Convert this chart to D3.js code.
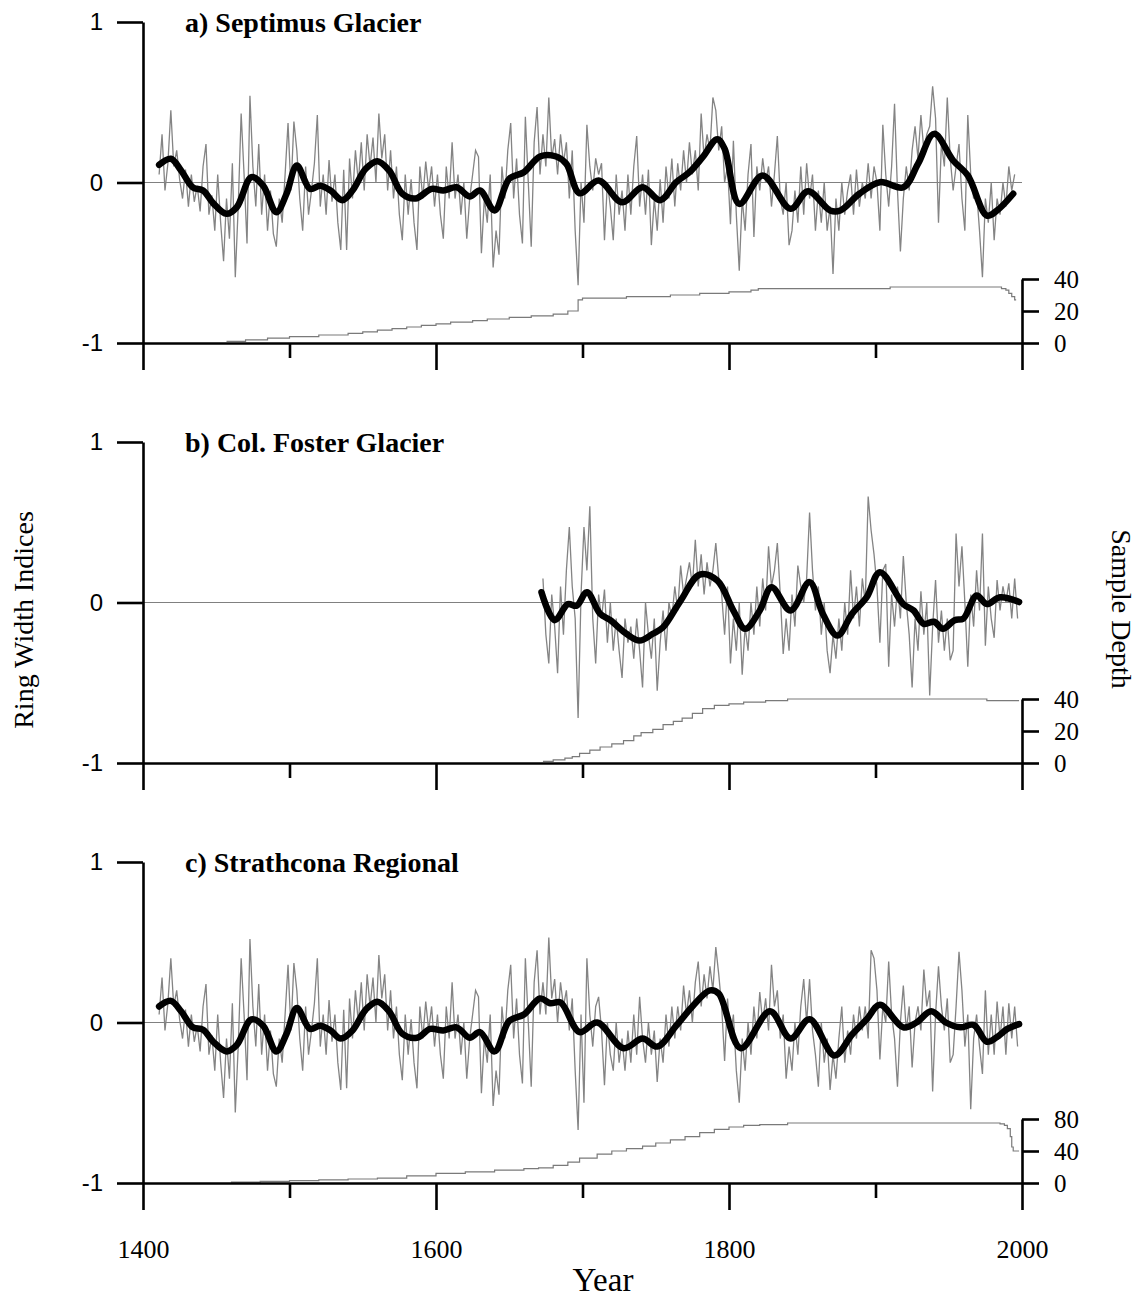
<!DOCTYPE html>
<html>
<head>
<meta charset="utf-8">
<script src="https://cdn.jsdelivr.net/npm/d3@7"></script>
<style>
body{margin:0;background:#fff;}
</style>
</head>
<body>
<div id="chart"></div>
<script>
// ring width indices, one value every 2 years
yearStep = 2;

septimusStart = 1411;
septimusIdx = [
 0.05, 0.30,-0.05, 0.12, 0.45, 0.10, 0.20, 0.02,-0.10, 0.08,
-0.15, 0.05,-0.12,-0.02,-0.18, 0.10, 0.24,-0.20,-0.08,-0.30,
 0.05,-0.25,-0.49,-0.10,-0.35, 0.12,-0.59,-0.15, 0.43, 0.05,
-0.38, 0.54, 0.10,-0.15, 0.24,-0.20, 0.05,-0.30,-0.05,-0.32,
-0.40,-0.10,-0.25, 0.05, 0.37,-0.05, 0.38, 0.20,-0.10,-0.30,
 0.10,-0.20,-0.05, 0.12, 0.42,-0.15, 0.05,-0.20, 0.14,-0.12,
 0.05,-0.25,-0.42, 0.08,-0.42, 0.15,-0.10, 0.20, 0.00, 0.25,
-0.05, 0.30, 0.10, 0.28, 0.00, 0.43, 0.15, 0.30,-0.05, 0.20,
-0.10, 0.10,-0.20,-0.36, 0.05,-0.20, 0.02,-0.25,-0.42, 0.10,
-0.10, 0.13,-0.05, 0.10,-0.15, 0.05,-0.20,-0.35, 0.10,-0.10,
 0.25,-0.10, 0.05,-0.20, 0.00,-0.35,-0.10, 0.05, 0.20, 0.16,
-0.44,-0.10,-0.25, 0.05,-0.53,-0.30,-0.45, 0.10,-0.10, 0.20,
 0.37,-0.10, 0.15,-0.20,-0.38, 0.41, 0.00,-0.40, 0.25, 0.47,
 0.05, 0.30, 0.10, 0.53, 0.15, 0.27, 0.05, 0.30, 0.12, 0.25,
-0.10, 0.20,-0.30,-0.64, 0.00,-0.25, 0.36, 0.10,-0.05, 0.15,
 0.05, 0.12,-0.36, 0.00,-0.15,-0.36, 0.05,-0.20,-0.05,-0.30,
 0.05,-0.20, 0.10, 0.29,-0.15, 0.05,-0.20, 0.08,-0.39,-0.10,
-0.30, 0.02,-0.25, 0.10,-0.10, 0.15,-0.15, 0.12,-0.05, 0.20,
 0.00, 0.25, 0.05, 0.20,-0.05, 0.43, 0.15, 0.30, 0.20, 0.53,
 0.45, 0.20, 0.35, 0.00, 0.10,-0.26, 0.26,-0.20,-0.55,-0.10,
-0.30, 0.05, 0.24,-0.34, 0.10,-0.05, 0.15, 0.00, 0.10,-0.15,
 0.05, 0.29,-0.10,-0.20, 0.00,-0.39,-0.30,-0.05,-0.25, 0.10,
-0.20, 0.12,-0.10, 0.05,-0.30,-0.05,-0.25, 0.00,-0.30,-0.15,
-0.57,-0.10,-0.30, 0.00,-0.20,-0.05, 0.05,-0.20, 0.08,-0.15,
 0.00,-0.10, 0.12,-0.10, 0.10, 0.00,-0.30, 0.36, 0.05,-0.15,
 0.10, 0.49,-0.05,-0.43,-0.10, 0.10,-0.05, 0.20, 0.35, 0.15,
 0.42, 0.20, 0.30, 0.35, 0.60, 0.40,-0.25, 0.25, 0.10, 0.53,
 0.15,-0.05, 0.10, 0.24,-0.10,-0.30, 0.42, 0.05,-0.10,-0.05,
-0.30,-0.59,-0.10,-0.25, 0.00,-0.36,-0.10,-0.20, 0.00,-0.15,
 0.10,-0.05, 0.05
];

fosterStart = 1673;
fosterIdx = [
 0.15,-0.20,-0.38, 0.05,-0.15,-0.44, 0.10,-0.20, 0.20, 0.47,
 0.10,-0.10,-0.72, 0.05, 0.47, 0.20, 0.60,-0.10,-0.38, 0.05,
-0.10, 0.08,-0.25, 0.00,-0.30,-0.10,-0.30,-0.47,-0.10,-0.25,
-0.15,-0.35,-0.10,-0.30,-0.53, 0.00,-0.20,-0.35,-0.10,-0.55,
-0.25,-0.05,-0.30, 0.00,-0.10, 0.10,-0.05, 0.23, 0.05, 0.15,
 0.25, 0.10, 0.39, 0.10, 0.30, 0.05, 0.25, 0.10, 0.20, 0.37,
 0.15, 0.05,-0.20, 0.10,-0.38,-0.10,-0.30, 0.00,-0.45,-0.15,
-0.30, 0.00,-0.20, 0.10,-0.15, 0.15,-0.05, 0.35, 0.10, 0.20,
 0.37, 0.05,-0.32,-0.10,-0.30, 0.05,-0.15, 0.23, 0.10, 0.00,
 0.15, 0.56, 0.20,-0.05, 0.10,-0.20, 0.00,-0.30,-0.44,-0.20,
-0.35,-0.10,-0.30, 0.00,-0.20, 0.20,-0.10, 0.10,-0.15, 0.15,
 0.00, 0.66, 0.45, 0.30, 0.10,-0.25, 0.20, 0.24,-0.40, 0.05,
-0.15, 0.10,-0.10, 0.29, 0.00,-0.20,-0.53,-0.10,-0.30, 0.07,
-0.20, 0.00,-0.58,-0.15, 0.14,-0.25,-0.05,-0.30,-0.10,-0.36,
-0.30, 0.43, 0.10, 0.35, 0.00,-0.40, 0.05,-0.15, 0.20,-0.05,
 0.43,-0.27, 0.10,-0.10,-0.22, 0.14,-0.05, 0.10, 0.00, 0.12,
-0.10, 0.15,-0.10
];

strathStart = 1411;
strathIdx = [
 0.05, 0.28,-0.05, 0.12, 0.40, 0.10, 0.20, 0.02,-0.10, 0.08,
-0.15, 0.05,-0.12,-0.02,-0.18, 0.10, 0.24,-0.20,-0.08,-0.30,
 0.05,-0.25,-0.47,-0.10,-0.35, 0.12,-0.56,-0.15, 0.40, 0.05,
-0.36, 0.52, 0.10,-0.15, 0.24,-0.20, 0.05,-0.30,-0.05,-0.32,
-0.40,-0.10,-0.25, 0.05, 0.36,-0.05, 0.37, 0.20,-0.10,-0.30,
 0.10,-0.20,-0.05, 0.12, 0.40,-0.15, 0.05,-0.20, 0.14,-0.12,
 0.05,-0.25,-0.42, 0.08,-0.41, 0.15,-0.10, 0.20, 0.00, 0.25,
-0.05, 0.30, 0.10, 0.28, 0.00, 0.42, 0.15, 0.30,-0.05, 0.20,
-0.10, 0.10,-0.20,-0.36, 0.05,-0.20, 0.02,-0.25,-0.41, 0.10,
-0.10, 0.13,-0.05, 0.10,-0.15, 0.05,-0.20,-0.35, 0.10,-0.10,
 0.25,-0.10, 0.05,-0.20, 0.00,-0.35,-0.10, 0.05, 0.20, 0.16,
-0.44,-0.10,-0.25, 0.05,-0.52,-0.30,-0.45, 0.10,-0.10, 0.20,
 0.36,-0.10, 0.15,-0.20,-0.38, 0.40, 0.00,-0.40, 0.25, 0.45,
 0.05,
 0.25, 0.05, 0.53, 0.15, 0.27, 0.00, 0.25, 0.10, 0.20,-0.05,
 0.15,-0.30,-0.67, 0.05,-0.50, 0.40, 0.05,-0.15, 0.10, 0.16,
-0.05,-0.39, 0.00,-0.20,-0.30, 0.00,-0.25,-0.10,-0.30,-0.05,
-0.25, 0.05,-0.20, 0.16,-0.10,-0.25, 0.00,-0.20,-0.05,-0.37,
-0.10,-0.25, 0.05,-0.15, 0.10,-0.10, 0.10,-0.05, 0.23, 0.05,
 0.20, 0.00, 0.25, 0.38, 0.10, 0.30, 0.15, 0.35, 0.20, 0.47,
 0.30, 0.10,-0.24, 0.15,-0.10, 0.05,-0.30,-0.50,-0.10,-0.30,
 0.00,-0.20, 0.10,-0.10, 0.19, 0.00, 0.15,-0.05, 0.36, 0.10,
 0.20,-0.10, 0.05,-0.35,-0.15,-0.30, 0.00,-0.20, 0.10, 0.27,
 0.00, 0.27,-0.05,-0.20,-0.40, 0.00,-0.25,-0.10,-0.42,-0.20,
-0.35,-0.10, 0.10,-0.25,-0.05,-0.20, 0.05,-0.10, 0.10,-0.05,
 0.10,-0.10, 0.45, 0.40, 0.20,-0.23, 0.10, 0.00, 0.38, 0.05,
-0.10,-0.40, 0.00, 0.23,-0.05, 0.10,-0.28, 0.00, 0.10,-0.05,
 0.33, 0.10, 0.20,-0.43, 0.05, 0.35, 0.10,-0.05, 0.15,-0.25,
-0.20, 0.10, 0.44, 0.20,-0.15, 0.05,-0.54,-0.10, 0.05,-0.15,
-0.32, 0.20,-0.20, 0.05,-0.20, 0.13,-0.10, 0.10,-0.20, 0.12,
-0.10, 0.10,-0.15
];

// smoothed curves [year, index]
septimusSpline = [
[1411,0.11],[1419,0.148],[1426,0.075],[1434,-0.03],[1441,-0.05],[1448,-0.13],[1457,-0.195],[1464,-0.154],
[1474,0.033],[1482,-0.02],[1491,-0.185],[1498,-0.07],[1505,0.106],[1514,-0.04],[1521,-0.02],[1528,-0.05],
[1536,-0.11],[1543,-0.05],[1552,0.085],[1560,0.133],[1568,0.075],[1577,-0.07],[1586,-0.1],[1597,-0.04],
[1605,-0.05],[1614,-0.03],[1623,-0.087],[1630,-0.05],[1640,-0.174],[1650,0.023],[1660,0.064],[1671,0.162],
[1682,0.162],[1689,0.116],[1698,-0.067],[1711,0.012],[1727,-0.123],[1741,-0.03],[1753,-0.11],[1764,0.002],
[1773,0.064],[1782,0.158],[1792,0.27],[1797,0.21],[1807,-0.133],[1823,0.044],[1842,-0.164],[1854,-0.054],
[1869,-0.174],[1876,-0.174],[1889,-0.07],[1903,0.002],[1919,-0.03],[1929,0.116],[1940,0.303],[1953,0.137],
[1963,0.044],[1976,-0.206],[1983,-0.174],[1994,-0.07]
];

fosterSpline = [
[1672,0.064],[1681,-0.11],[1690,-0.01],[1696,-0.02],[1703,0.064],[1712,-0.07],[1719,-0.11],[1730,-0.195],
[1739,-0.237],[1748,-0.195],[1755,-0.154],[1767,0.012],[1780,0.174],[1792,0.137],[1803,-0.05],[1811,-0.164],
[1821,-0.05],[1829,0.095],[1842,-0.05],[1855,0.127],[1864,-0.07],[1874,-0.206],[1884,-0.07],[1894,0.033],
[1903,0.189],[1919,-0.01],[1926,-0.05],[1933,-0.133],[1940,-0.12],[1946,-0.164],[1954,-0.11],[1960,-0.1],
[1969,0.044],[1976,-0.01],[1985,0.033],[1998,0.003]
];

strathSpline = [
[1411,0.1],[1419,0.135],[1426,0.07],[1434,-0.03],[1441,-0.045],[1448,-0.12],[1457,-0.18],[1464,-0.14],
[1474,0.02],[1482,-0.02],[1491,-0.18],[1498,-0.07],[1505,0.09],[1514,-0.04],[1521,-0.02],[1528,-0.05],
[1535,-0.1],[1543,-0.05],[1552,0.08],[1560,0.13],[1568,0.07],[1577,-0.07],[1587,-0.095],[1596,-0.04],
[1605,-0.05],[1614,-0.03],[1623,-0.095],[1630,-0.06],[1640,-0.18],[1650,0.01],[1660,0.05],[1671,0.15],
[1678,0.12],[1685,0.125],[1698,-0.06],[1710,0.0],[1728,-0.16],[1741,-0.1],[1751,-0.15],[1764,-0.02],
[1775,0.1],[1787,0.2],[1793,0.18],[1808,-0.16],[1828,0.07],[1842,-0.1],[1855,0.02],[1872,-0.205],
[1884,-0.075],[1894,0.02],[1903,0.11],[1919,-0.03],[1928,0.0],[1938,0.07],[1948,0.0],[1958,-0.03],
[1967,-0.015],[1976,-0.12],[1983,-0.09],[1990,-0.04],[1998,-0.01]
];

// sample depth [year, number of series]
septimusDepth = [
[1457,1],[1470,2],[1485,3],[1500,4],[1520,5],[1540,6],[1550,7],[1560,8],[1570,9],[1580,10],[1590,11],
[1600,12],[1610,13],[1625,14],[1635,15],[1650,16],[1665,17],[1680,18],[1690,20],[1697,27],[1700,28],
[1730,29],[1760,30],[1780,31],[1800,32],[1815,33],[1820,34],[1910,35],[1986,34],[1989,33],[1991,31],
[1993,29],[1995,27]
];
fosterDepth = [
[1673,1],[1680,2],[1688,3],[1693,4],[1698,6],[1705,8],[1712,10],[1720,12],[1728,14],[1735,17],[1740,19],
[1748,21],[1755,24],[1762,26],[1768,28],[1775,31],[1782,34],[1790,36],[1800,37],[1810,38],[1825,39],
[1840,40],[1976,39],[1997,39]
];
strathDepth = [
[1460,1],[1480,2],[1500,3],[1520,4],[1540,5],[1560,6],[1580,9],[1600,12],[1620,14],[1640,16],[1660,18],
[1670,19],[1680,22],[1690,26],[1698,31],[1710,36],[1720,40],[1730,43],[1741,46],[1750,50],[1760,54],
[1770,58],[1780,63],[1790,67],[1800,70],[1810,72],[1821,73],[1840,75],[1985,74],[1988,72],[1990,68],
[1992,58],[1993,45],[1994,40],[1997,40]
];

panelTitles = ["a) Septimus Glacier", "b) Col. Foster Glacier", "c) Strathcona Regional"];
depthTicks = [[0, 20, 40], [0, 20, 40], [0, 40, 80]];
depthMax = [40, 40, 80];
indexTicks = [-1, 0, 1];
majorYears = [1400, 1600, 1800, 2000];
minorYears = [1500, 1700, 1900];

let serif = "'Liberation Serif','Times New Roman',serif";
let sans = "'Liberation Sans',Arial,sans-serif";

let svg = d3.select("#chart").append("svg")
    .attr("width", 1146)
    .attr("height", 1297);

let xScale = d3.scaleLinear().domain([1400, 2000]).range([143, 1022]);

let series = [
    {idx: septimusIdx, start: septimusStart, spline: septimusSpline, depth: septimusDepth},
    {idx: fosterIdx, start: fosterStart, spline: fosterSpline, depth: fosterDepth},
    {idx: strathIdx, start: strathStart, spline: strathSpline, depth: strathDepth}
];

function styleAxis(g, fam, size){
    g.attr("font-family", fam).attr("font-size", size);
    g.selectAll("path.domain").attr("stroke", "#000").attr("stroke-width", 2.6);
    g.selectAll(".tick line").attr("stroke", "#000").attr("stroke-width", 2.6);
    g.selectAll(".tick text").attr("fill", "#000");
}

function drawPanel(p, k){
    let top = 22 + 420 * k, bottom = top + 321;
    let y = d3.scaleLinear().domain([-1, 1]).range([bottom, top]);
    let yd = d3.scaleLinear().domain([0, depthMax[k]]).range([bottom, bottom - 64]);
    let g = svg.append("g");

    // zero line
    g.append("line")
        .attr("x1", xScale(1400)).attr("x2", xScale(2000))
        .attr("y1", y(0)).attr("y2", y(0))
        .attr("stroke", "#808080").attr("stroke-width", 1);

    // sample depth
    let last = p.depth[p.depth.length - 1];
    g.append("path")
        .datum(p.depth.concat([[last[0] + 1, last[1]]]))
        .attr("fill", "none")
        .attr("stroke", "#7a7a7a")
        .attr("stroke-width", 1.2)
        .attr("d", d3.line().curve(d3.curveStepAfter)
            .x(function(d){ return xScale(d[0]); })
            .y(function(d){ return yd(d[1]); }));

    // annual indices
    g.append("path")
        .datum(p.idx)
        .attr("fill", "none")
        .attr("stroke", "#848484")
        .attr("stroke-width", 1.3)
        .attr("d", d3.line()
            .x(function(d, i){ return xScale(p.start + i * yearStep); })
            .y(function(d){ return y(d); }));

    // smoothed
    g.append("path")
        .datum(p.spline)
        .attr("fill", "none")
        .attr("stroke", "#000")
        .attr("stroke-width", 6.5)
        .attr("stroke-linecap", "round")
        .attr("stroke-linejoin", "round")
        .attr("d", d3.line().curve(d3.curveCatmullRom.alpha(0.5))
            .x(function(d){ return xScale(d[0]); })
            .y(function(d){ return y(d[1]); }));

    // left axis
    let yAxis = g.append("g")
        .attr("transform", "translate(" + xScale(1400) + ",0)")
        .call(d3.axisLeft(y).tickValues(indexTicks).tickSize(26).tickSizeOuter(0).tickPadding(14)
            .tickFormat(function(d){ return String(d); }));
    styleAxis(yAxis, sans, 24);

    // bottom axis
    let xMajor = g.append("g")
        .attr("transform", "translate(0," + bottom + ")")
        .call(d3.axisBottom(xScale).tickValues(majorYears).tickSize(27).tickSizeOuter(0).tickPadding(30)
            .tickFormat(function(d){ return k == 2 ? String(d) : ""; }));
    styleAxis(xMajor, serif, 26);

    let xMinor = g.append("g")
        .attr("transform", "translate(0," + bottom + ")")
        .call(d3.axisBottom(xScale).tickValues(minorYears).tickSize(15).tickSizeOuter(0).tickFormat(""));
    xMinor.select("path.domain").remove();
    styleAxis(xMinor, serif, 26);

    // right (sample depth) axis
    let dAxis = g.append("g")
        .attr("transform", "translate(" + xScale(2000) + ",0)")
        .call(d3.axisRight(yd).tickValues(depthTicks[k]).tickSize(17).tickSizeOuter(0).tickPadding(15)
            .tickFormat(function(d){ return String(d); }));
    styleAxis(dAxis, serif, 25);

    // title
    g.append("text")
        .attr("x", 185)
        .attr("y", top + 10)
        .attr("font-family", serif)
        .attr("font-weight", "bold")
        .attr("font-size", 28)
        .text(panelTitles[k]);
}

series.forEach(function(p, k){ drawPanel(p, k); });

svg.append("text")
    .attr("transform", "translate(33,620) rotate(-90)")
    .attr("text-anchor", "middle")
    .attr("font-family", serif)
    .attr("font-size", 28)
    .text("Ring Width Indices");

svg.append("text")
    .attr("transform", "translate(1112,609) rotate(90)")
    .attr("text-anchor", "middle")
    .attr("font-family", serif)
    .attr("font-size", 28)
    .text("Sample Depth");

svg.append("text")
    .attr("x", 603)
    .attr("y", 1291)
    .attr("text-anchor", "middle")
    .attr("font-family", serif)
    .attr("font-size", 33)
    .text("Year");
</script>
</body>
</html>
